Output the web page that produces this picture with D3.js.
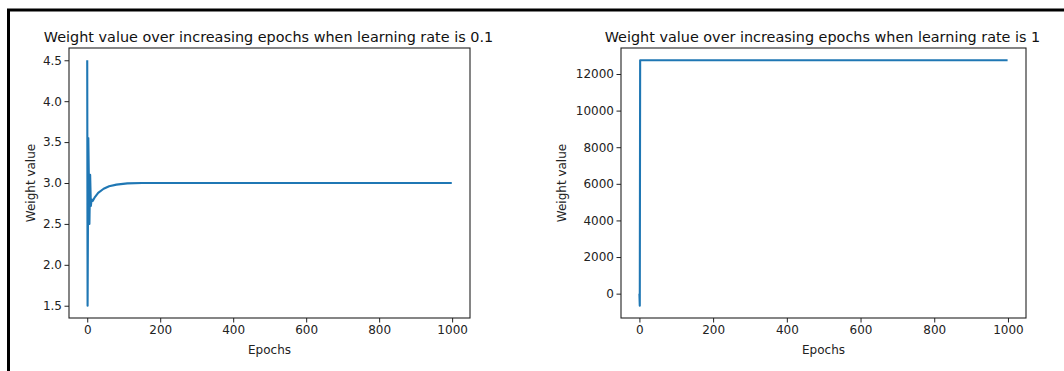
<!DOCTYPE html>
<html>
<head>
<meta charset="utf-8">
<script src="https://cdn.jsdelivr.net/npm/d3@7"></script>
<style>
  body { margin: 0; background: #fff; }
  svg { display: block; font-family: "DejaVu Sans", sans-serif; }
</style>
</head>
<body>
<svg id="chart" width="1064" height="371"></svg>
<script>
// values (sparse samples, the line joins them)
const epochsLr01 = [0, 1, 3, 6, 8, 10, 12, 15, 20, 30, 45, 60, 80, 110, 150, 200, 999];
const weightsLr01 = [4.5, 1.5, 3.55, 2.5, 3.1, 2.72, 2.8, 2.78, 2.82, 2.88, 2.93, 2.96, 2.98, 2.995, 3.0, 3.0, 3.0];

const epochsLr1 = [0, 1, 2, 999];
const weightsLr1 = [0, -660, 12750, 12750];

const xTicks = [0, 200, 400, 600, 800, 1000];
const yTicksLr01 = [1.5, 2.0, 2.5, 3.0, 3.5, 4.0, 4.5];
const yTicksLr1 = [0, 2000, 4000, 6000, 8000, 10000, 12000];

const titles = [
  "Weight value over increasing epochs when learning rate is 0.1",
  "Weight value over increasing epochs when learning rate is 1"
];

const svg = d3.select("#chart");

// outer frame
svg.append("rect")
  .attr("x", 8.5).attr("y", 10)
  .attr("width", 1100).attr("height", 400)
  .attr("fill", "none")
  .attr("stroke", "#000")
  .attr("stroke-width", 3);

// matplotlib-like auto limits (5% margin)
function padded(ext) {
  const m = (ext[1] - ext[0]) * 0.05;
  return [ext[0] - m, ext[1] + m];
}

function drawPanel(box, epochs, weights, yTicks, yFmt, title, ylabelX) {
  const x = d3.scaleLinear().domain(padded(d3.extent(epochs))).range([box.left, box.right]);
  const y = d3.scaleLinear().domain(padded(d3.extent(weights))).range([box.bottom, box.top]);

  const g = svg.append("g");

  const line = d3.line()
    .x((d, i) => x(epochs[i]))
    .y(d => y(d));

  g.append("path")
    .datum(weights)
    .attr("d", line)
    .attr("fill", "none")
    .attr("stroke", "#1f77b4")
    .attr("stroke-width", 2.1)
    .attr("stroke-linejoin", "round");

  const xAxis = g.append("g")
    .attr("transform", "translate(0," + box.bottom + ")")
    .call(d3.axisBottom(x).tickValues(xTicks).tickSize(4.5).tickPadding(3).tickFormat(d3.format("d")));
  const yAxis = g.append("g")
    .attr("transform", "translate(" + box.left + ",0)")
    .call(d3.axisLeft(y).tickValues(yTicks).tickSize(4.5).tickPadding(2.5).tickFormat(yFmt));

  [xAxis, yAxis].forEach(a => {
    a.select(".domain").remove();
    a.selectAll("line").attr("stroke", "#222").attr("stroke-width", 1);
    a.selectAll("text")
      .attr("fill", "#222")
      .style("font-size", "12px")
      .style("font-family", "DejaVu Sans, sans-serif");
  });

  g.append("rect")
    .attr("x", box.left).attr("y", box.top)
    .attr("width", box.right - box.left).attr("height", box.bottom - box.top)
    .attr("fill", "none")
    .attr("stroke", "#222")
    .attr("stroke-width", 1.1);

  g.append("text")
    .attr("x", (box.left + box.right) / 2 - 1)
    .attr("y", 42)
    .attr("text-anchor", "middle")
    .attr("fill", "#111")
    .style("font-size", "14.4px")
    .text(title);

  g.append("text")
    .attr("x", (box.left + box.right) / 2)
    .attr("y", 354)
    .attr("text-anchor", "middle")
    .attr("fill", "#222")
    .style("font-size", "12px")
    .text("Epochs");

  g.append("text")
    .attr("transform", "translate(" + ylabelX + "," + (box.top + box.bottom) / 2 + ") rotate(-90)")
    .attr("text-anchor", "middle")
    .attr("fill", "#222")
    .style("font-size", "12px")
    .text("Weight value");
}

drawPanel({left: 69, right: 470, top: 48, bottom: 318},
  epochsLr01, weightsLr01, yTicksLr01, d3.format(".1f"), titles[0], 35);
drawPanel({left: 621, right: 1026, top: 48, bottom: 318},
  epochsLr1, weightsLr1, yTicksLr1, d3.format("d"), titles[1], 566);
</script>
</body>
</html>
